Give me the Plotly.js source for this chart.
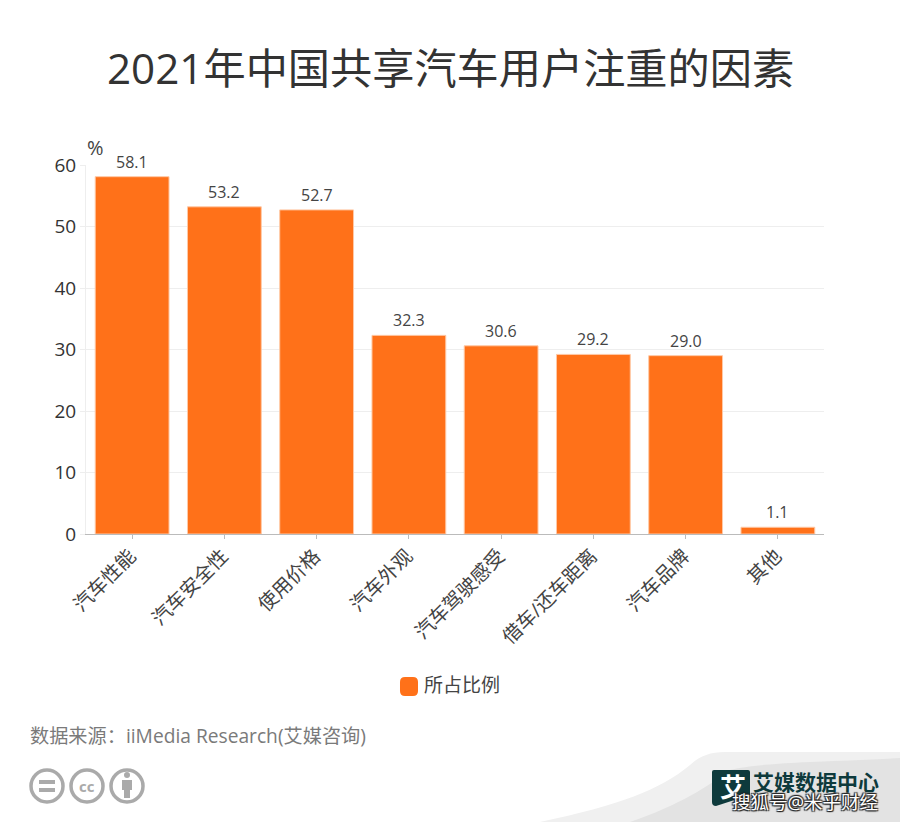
<!DOCTYPE html>
<html><head><meta charset="utf-8">
<script src="https://cdn.plot.ly/plotly-3.0.1.min.js"></script>
<style>html,body{margin:0;padding:0;background:#fff}#c{width:900px;height:822px}</style></head>
<body><div id="c"></div>
<script>
const categories = ["汽车性能","汽车安全性","使用价格","汽车外观","汽车驾驶感受","借车/还车距离","汽车品牌","其他"];
const values = [58.1,53.2,52.7,32.3,30.6,29.2,29.0,1.1];
const valueLabels = ["58.1","53.2","52.7","32.3","30.6","29.2","29.0","1.1"];
const seriesName = "所占比例";
const yTicks = [0,10,20,30,40,50,60];
const titleText = "2021年中国共享汽车用户注重的因素";
const sourceText = "数据来源\uFF1AiiMedia Research(艾媒咨询)";
const brandText = "艾媒数据中心";
const markText = "搜狐号@米乎财经";
const FONT = '"Open Sans","Noto Sans CJK SC",sans-serif';
const W=900,H=822,L=86,T=165,PW=738,PH=369;
const px=x=>(x-L)/PW, py=y=>(T+PH-y)/PH;
const paper=o=>Object.assign({xref:'paper',yref:'paper'},o);
const P=(x,y)=>`${px(x).toFixed(5)},${py(y).toFixed(5)}`;
const note=(x,y,text,size,color,extra)=>Object.assign(paper({x:px(x),y:py(y),text,showarrow:false,xanchor:'left',yanchor:'middle',font:{family:FONT,size,color}}),extra||{});
const circle=(cx,cy,r,o)=>paper(Object.assign({type:'circle',x0:px(cx-r),x1:px(cx+r),y0:py(cy+r),y1:py(cy-r)},o));
const rect=(x0,y0,x1,y1,fill)=>paper({type:'rect',x0:px(x0),x1:px(x1),y0:py(y1),y1:py(y0),fillcolor:fill,line:{width:0}});
const ring={fillcolor:'rgba(0,0,0,0)',line:{color:'#aaaaaa',width:3.5}};
const shapes=[
 paper({type:'path',layer:'below',path:`M${P(540,822)} C${P(620,805)} ${P(660,790)} ${P(690,765)} C${P(700,756)} ${P(710,752)} ${P(725,752)} L${P(900,752)} L${P(900,822)} Z`,fillcolor:'#f0f0f0',line:{width:0}}),
 paper({type:'path',layer:'below',path:`M${P(630,822)} C${P(680,805)} ${P(710,785)} ${P(730,770)} C${P(760,762)} ${P(830,762)} ${P(900,758)} L${P(900,822)} Z`,fillcolor:'#e3e3e3',line:{width:0}}),
 circle(47,786,16,ring),circle(87,786,16,ring),circle(127,786,16,ring),
 rect(39,780,55,784,'#aaaaaa'),rect(39,788,55,792,'#aaaaaa'),
 circle(127,775,3,{fillcolor:'#aaaaaa',line:{width:0}}),rect(122,780,132,790,'#aaaaaa'),rect(124,790,130,798,'#aaaaaa'),
 paper({type:'path',path:`M${P(714,770)} L${P(748,770)} Q${P(750,770)} ${P(750,772)} L${P(750,795)} L${P(716,806)} Q${P(712,806)} ${P(712,802)} L${P(712,772)} Q${P(712,770)} ${P(714,770)} Z`,fillcolor:'#0e3a3c',line:{width:0}}),
 paper({type:'path',path:`M${P(400,682)} Q${P(400,677)} ${P(405,677)} L${P(413,677)} Q${P(418,677)} ${P(418,682)} L${P(418,691)} Q${P(418,696)} ${P(413,696)} L${P(405,696)} Q${P(400,696)} ${P(400,691)} Z`,fillcolor:'#ff7119',line:{width:0}})
];
const valueNotes=categories.map((c,i)=>({xref:'x',yref:'y',x:c,y:values[i],yshift:15,text:valueLabels[i],showarrow:false,xanchor:'center',yanchor:'middle',font:{family:FONT,size:16,color:'#444444'}}));
const annotations=valueNotes.concat([
 paper({x:px(450),y:py(67),text:titleText,showarrow:false,xanchor:'center',yanchor:'middle',font:{family:FONT,size:42.2,color:'#333333'}}),
 note(85,147,'%',20,'#444444'),
 note(422,685,seriesName,19,'#444444'),
 note(28,735,sourceText,19.2,'#7a7a7a'),
 note(87,786,'cc',15,'#aaaaaa',{xanchor:'center',font:{family:FONT,size:15,color:'#aaaaaa',weight:700}}),
 note(718,787,'艾',26,'#ffffff',{font:{family:FONT,size:26,color:'#ffffff',weight:700}}),
 note(751,782,brandText,21,'#0e3a3c',{font:{family:FONT,size:21,color:'#0e3a3c',weight:700}}),
 note(730,801,markText,18.5,'#ffffff',{font:{family:FONT,size:18.5,color:'#ffffff',shadow:'1px 1px 1px #222, -1px -1px 1px #222, 1px -1px 1px #222, -1px 1px 1px #222'}})
]);
Plotly.newPlot('c',[{
 type:'bar',x:categories,y:values,name:seriesName,width:0.8,
 marker:{color:'#ff7119',line:{color:'#ffc9a6',width:1}},
 cliponaxis:false,hoverinfo:'x+y'
}],{
 width:W,height:H,showlegend:false,paper_bgcolor:'#fff',plot_bgcolor:'#fff',
 margin:{l:L,r:W-L-PW,t:T,b:H-T-PH,autoexpand:false},
 font:{family:FONT,color:'#444444'},
 xaxis:{type:'category',range:[-0.5,7.5],tickangle:-45,ticks:'outside',ticklen:4,tickcolor:'#bbbbbb',tickfont:{family:FONT,size:19.5,color:'#444444'},ticklabelstandoff:-2,ticklabelshift:-2,showline:true,linecolor:'#bbbbbb',linewidth:1,showgrid:false,zeroline:false,automargin:false},
 yaxis:{range:[0,60],tickvals:yTicks,ticks:'outside',ticklen:5,tickcolor:'#eeeeee',tickfont:{family:FONT,size:19,color:'#333333'},showline:true,linecolor:'#eeeeee',linewidth:1,gridcolor:'#eeeeee',zeroline:false,automargin:false},
 shapes,annotations,bargap:0.2
},{displayModeBar:false,staticPlot:true});
</script></body></html>
